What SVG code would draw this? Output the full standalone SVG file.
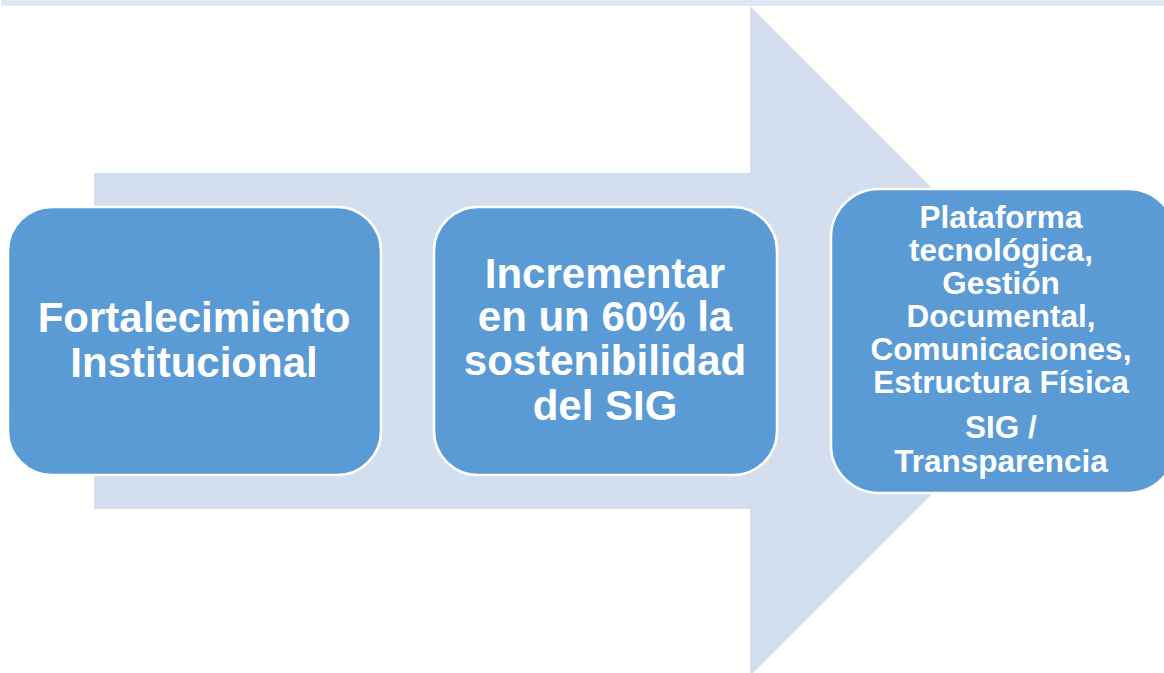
<svg xmlns="http://www.w3.org/2000/svg" width="1164" height="673" viewBox="0 0 1164 673">
<style>
.box{fill:#5B9BD5;stroke:#FFFFFF;stroke-width:2.5}
.t{font-family:"Liberation Sans",Arial,sans-serif;font-weight:bold;fill:#FFFFFF;text-anchor:middle}
.big{font-size:42px}
.small{font-size:31.5px}
</style>
<rect x="0" y="0" width="1164" height="673" fill="#FFFFFF"/>
<rect x="1" y="0" width="1163" height="6" fill="#DEE8F5"/>
<g id="arrow">
<path d="M94,173 L750,173 L750,6 L1085,341 L750,676 L750,509 L94,509 Z" fill="#D3DEEF"/>
</g>
<g id="node1">
<rect class="box" x="8" y="207" width="373" height="268" rx="44" ry="44"/>
<text class="t big" x="194" y="332">Fortalecimiento</text>
<text class="t big" x="194" y="377">Institucional</text>
</g>
<g id="node2">
<rect class="box" x="434" y="207" width="343" height="268" rx="44" ry="44"/>
<text class="t big" x="605" y="288">Incrementar</text>
<text class="t big" x="605" y="331">en un 60% la</text>
<text class="t big" x="605" y="375">sostenibilidad</text>
<text class="t big" x="605" y="420">del SIG</text>
</g>
<g id="node3">
<rect class="box" x="831" y="189" width="345" height="304" rx="48" ry="48"/>
<text class="t small" x="1001" y="228">Plataforma</text>
<text class="t small" x="1001" y="261">tecnológica,</text>
<text class="t small" x="1001" y="294">Gestión</text>
<text class="t small" x="1001" y="327">Documental,</text>
<text class="t small" x="1001" y="360">Comunicaciones,</text>
<text class="t small" x="1001" y="393">Estructura Física</text>
<text class="t small" x="1001" y="438">SIG /</text>
<text class="t small" x="1001" y="472">Transparencia</text>
</g>
<g id="connectors"/>
</svg>
